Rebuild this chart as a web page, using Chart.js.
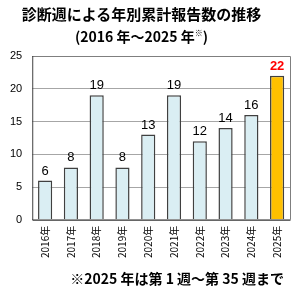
<!DOCTYPE html>
<html><head><meta charset="utf-8">
<script src="https://cdn.jsdelivr.net/npm/chart.js@4.4.0/dist/chart.umd.min.js"></script>
<style>
html,body{margin:0;padding:0;background:#fff;}
#wrap{position:relative;width:300px;height:294px;overflow:hidden;}
#c{position:absolute;left:0;top:0;}
.t{position:absolute;left:0;width:283px;text-align:center;font-family:"Noto Sans CJK JP","Liberation Sans",sans-serif;font-weight:bold;color:#000;white-space:nowrap;}
#t1{top:4px;font-size:15px;line-height:20px;}
#t2{top:26px;font-size:14px;line-height:20px;}
#t2 sup{font-size:8px;vertical-align:6px;line-height:0;}
#fn{position:absolute;right:16px;top:268px;font-family:"Noto Sans CJK JP","Liberation Sans",sans-serif;font-weight:bold;font-size:14px;line-height:20px;color:#000;white-space:nowrap;}
</style></head>
<body>
<div id="wrap">
<canvas id="c" width="300" height="294"></canvas>
<div class="t" id="t1">診断週による年別累計報告数の推移</div>
<div class="t" id="t2">(2016 年～2025 年<sup>※</sup>)</div>
<div id="fn">※2025 年は第 1 週～第 35 週まで</div>
</div>
<script>
const categories = ["2016年","2017年","2018年","2019年","2020年","2021年","2022年","2023年","2024年","2025年"];
const reports = [6, 8, 19, 8, 13, 19, 12, 14, 16, 22];
const yTicks = [0, 5, 10, 15, 20, 25];

const fills = reports.map((v,i)=> i===reports.length-1 ? "#FFC000" : "#DAEEF3");

const labelPlugin = {
  id:"labels",
  afterDatasetsDraw(chart){
    const ctx = chart.ctx;
    const meta = chart.getDatasetMeta(0);
    ctx.save();
    ctx.textAlign="center";
    ctx.textBaseline="bottom";
    meta.data.forEach((bar,i)=>{
      const last = i===reports.length-1;
      ctx.font = (last?"bold ":"") + "13px 'Liberation Sans', Arial, sans-serif";
      ctx.fillStyle = last ? "#FF0000" : "#000";
      ctx.fillText(String(reports[i]), bar.x, bar.y-3);
    });
    ctx.restore();
  }
};
const borderPlugin = {
  id:"frame",
  beforeDatasetsDraw(chart){
    const a = chart.chartArea, ctx = chart.ctx;
    ctx.save();
    ctx.strokeStyle="#7f7f7f"; ctx.lineWidth=1;
    ctx.beginPath();
    ctx.moveTo(a.left, a.top+0.5); ctx.lineTo(a.right+0.5, a.top+0.5); ctx.lineTo(a.right+0.5, a.bottom);
    ctx.stroke();
    ctx.strokeStyle="#404040";
    ctx.beginPath();
    ctx.moveTo(a.left+0.5, a.top); ctx.lineTo(a.left+0.5, a.bottom+0.5); ctx.lineTo(a.right+0.5, a.bottom+0.5);
    ctx.stroke();
    ctx.restore();
  }
};

new Chart(document.getElementById("c"), {
  type:"bar",
  data:{labels:categories, datasets:[{data:reports, backgroundColor:fills, borderColor:"#404040", borderWidth:1.5, borderSkipped:"bottom", categoryPercentage:1, barPercentage:0.55}]},
  options:{
    responsive:false, animation:false, devicePixelRatio:1,
    layout:{padding:{top:56, right:10, bottom:30, left:0}},
    plugins:{legend:{display:false}, tooltip:{enabled:false}, title:{display:false}},
    scales:{
      y:{min:0,max:25,
        afterBuildTicks(ax){ ax.ticks = yTicks.map(v=>({value:v})); },
        grid:{color:"#a6a6a6", drawTicks:false, lineWidth:1},
        border:{display:false},
        ticks:{padding:10, color:"#000", font:{family:"'Liberation Sans', Arial, sans-serif", size:11}}
      },
      x:{
        grid:{display:false, drawTicks:false},
        border:{display:false},
        ticks:{minRotation:90, maxRotation:90, padding:6, color:"#000", font:{family:"'Noto Sans CJK JP','Liberation Sans',sans-serif", size:10}}
      }
    }
  },
  plugins:[borderPlugin, labelPlugin]
});
</script>
</body></html>
